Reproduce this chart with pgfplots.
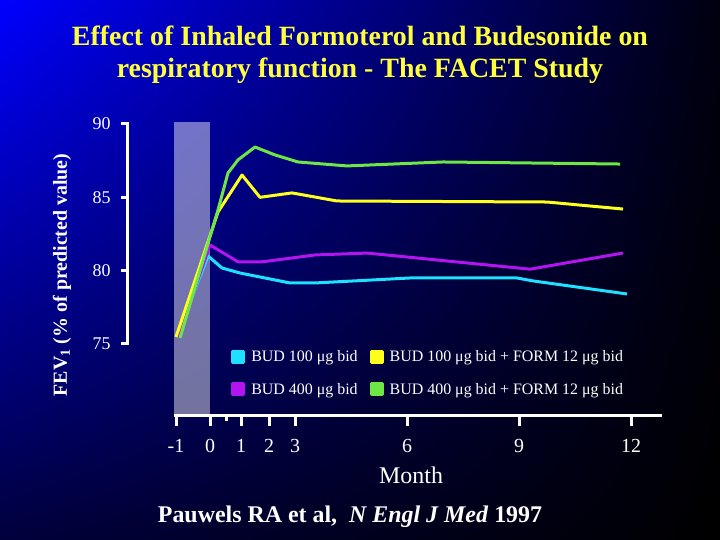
\documentclass[border=0pt]{standalone}
\usepackage{fontspec}
\setmainfont{Liberation Serif}
\usepackage{pgfplots}
\pgfplotsset{compat=1.18}
\usetikzlibrary{shadings}
\definecolor{ccyan}{RGB}{30,225,255}
\definecolor{cmag}{RGB}{180,20,240}
\definecolor{cyel}{RGB}{255,255,30}
\definecolor{cgrn}{RGB}{110,230,70}
\definecolor{tyel}{RGB}{255,255,60}
\definecolor{bgul}{RGB}{0,0,255}
\definecolor{bgur}{RGB}{0,0,15}
\definecolor{bgll}{RGB}{0,0,60}
\definecolor{bglr}{RGB}{0,0,0}
\begin{document}
\begin{tikzpicture}
\begin{scope}[x=1bp,y=1bp]
\useasboundingbox (0,0) rectangle (720,540);
\shade[upper left=bgul, upper right=bgur, lower left=bgll, lower right=bglr] (0,0) rectangle (720,540);
\node[font=\fontsize{28}{32}\selectfont\bfseries, text=tyel, align=center] at (360,485) {Effect of Inhaled Formoterol and Budesonide on\\respiratory function - The FACET Study};
\end{scope}
\begin{axis}[
  at={(127bp,124bp)}, anchor=south west,
  scale only axis, width=535bp, height=292bp,
  xmin=127, xmax=662, ymin=70.09, ymax=90,
  axis lines=left, axis line style={draw=none},
  tick align=outside, major tick length=10bp,
  xtick={176,210,241,269,295,407,519,631},
  xticklabels={-1,0,1,2,3,6,9,12},
  extra x ticks={226}, extra x tick labels={},
  extra x tick style={major tick length=5bp},
  xtick style={white, line width=3bp},
  ytick={75,80,85,90}, yticklabels={75,80,85,90},
  ytick style={draw=none},
  xticklabel style={font=\fontsize{20}{20}\selectfont, text=white, yshift=-10bp},
  yticklabel style={font=\fontsize{18}{18}\selectfont, text=white, xshift=-3bp},
  xlabel={Month},
  xlabel style={at={(axis description cs:0.531,-0.202)}, anchor=center, font=\fontsize{24}{24}\selectfont, text=white},
  ylabel={FEV\textsubscript{1} (\% of predicted value)},
  ylabel style={at={(axis description cs:-0.1215,0.483)}, anchor=center, rotate=0, font=\fontsize{20}{20}\selectfont\bfseries, text=white},
  legend style={at={(0.189,0.238)}, anchor=north west, draw=none, fill=none, text=white,
    font=\fontsize{16}{16}\selectfont, row sep=16bp,
    /tikz/every even column/.append style={column sep=10bp}},
  legend columns=2, transpose legend, legend cell align=left,
  legend image code/.code={\fill[#1] (0bp,-5.5bp) rectangle (11bp,5.5bp); \path (15bp,0bp);},
  every axis plot/.append style={line width=3bp, line join=round, no markers},
  clip=false,
]
\fill[white, opacity=0.45] (axis cs:174,70.09) rectangle (axis cs:210,90.14);
\draw[white, line width=3bp] (axis cs:127,75) -- (axis cs:127,90);
\draw[white, line width=3bp] (axis cs:174,70.09) -- (axis cs:662,70.09);
\draw[white, line width=3bp] (axis cs:128.5,75) -- (axis cs:121,75);
\draw[white, line width=3bp] (axis cs:128.5,80) -- (axis cs:121,80);
\draw[white, line width=3bp] (axis cs:128.5,85) -- (axis cs:121,85);
\draw[white, line width=3bp] (axis cs:128.5,90) -- (axis cs:121,90);
\addplot[color=ccyan] coordinates {(177,75.55) (208,81.0) (222,80.18) (240,79.84) (290,79.16) (315,79.16) (410,79.5) (517,79.5) (533,79.3) (627,78.41)};
\addlegendentry{BUD 100 μg bid}
\addplot[color=cmag] coordinates {(178,75.48) (210,81.75) (238,80.6) (262,80.6) (315,81.07) (367,81.2) (530,80.1) (623,81.2)};
\addlegendentry{BUD 400 μg bid}
\addplot[color=cyel] coordinates {(176,75.48) (218,84.0) (242,86.52) (260,85.0) (292,85.3) (337,84.75) (547,84.68) (623,84.2)};
\addlegendentry{BUD 100 μg bid + FORM 12 μg bid}
\addplot[color=cgrn] coordinates {(180,75.41) (218,84.14) (228,86.66) (238,87.55) (255,88.43) (275,87.89) (298,87.41) (347,87.14) (443,87.41) (620,87.27)};
\addlegendentry{BUD 400 μg bid + FORM 12 μg bid}
\end{axis}
\begin{scope}[x=1bp,y=1bp]
\node[font=\fontsize{24}{24}\selectfont\bfseries, text=white] at (350,23) {Pauwels RA et al,\ \ \textit{N Engl J Med} 1997};
\end{scope}
\end{tikzpicture}
\end{document}
